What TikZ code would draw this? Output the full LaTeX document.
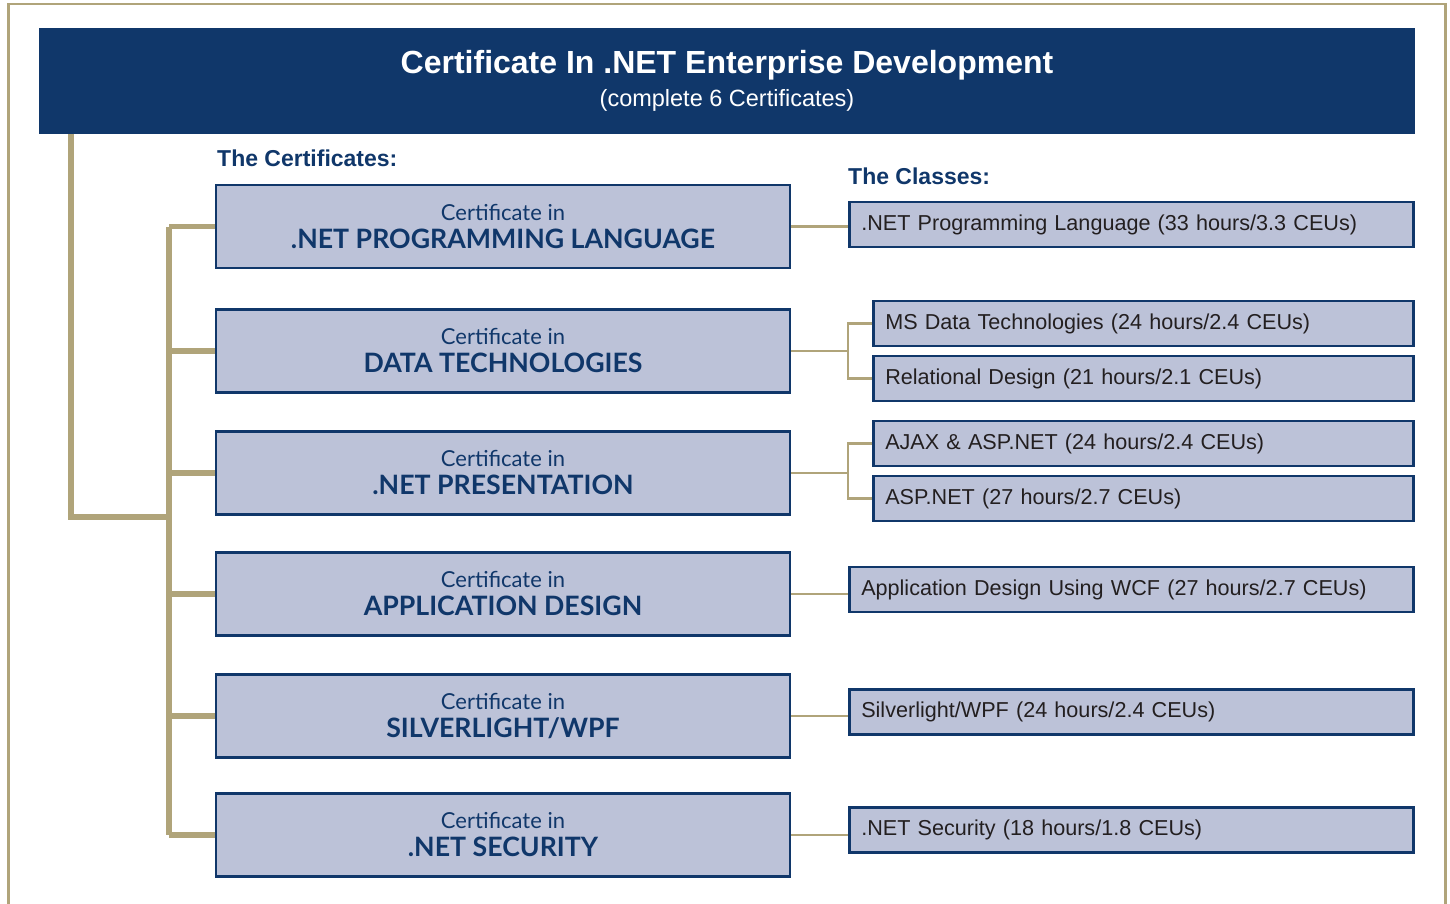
\documentclass[tikz,border=0pt]{standalone}
\usepackage{fontspec}
\setmainfont{Liberation Sans}
\newfontfamily\certfont{Lato}
\usepackage{tikz}
\definecolor{navy}{HTML}{10376A}
\definecolor{tan}{HTML}{B0A47A}
\definecolor{boxfill}{HTML}{BCC2D8}
\definecolor{classtext}{HTML}{231F20}

\begin{document}
\begin{tikzpicture}[x=1pt,y=-1pt,
        frame/.style={draw=tan,line width=2.5pt},
        banner/.style={shape=rectangle,fill=navy,minimum width=1376pt,minimum height=106pt,inner sep=0pt},
        heading/.style={anchor=base west,inner sep=0pt,text=navy,font=\bfseries\fontsize{23}{27}\selectfont},
        cert/.style={shape=rectangle,draw=navy,fill=boxfill,line width=2.5pt,minimum width=574pt,minimum height=83pt,inner sep=0pt,align=center,text=navy,font=\certfont\fontsize{22}{27}\selectfont},
        class/.style={shape=rectangle,draw=navy,fill=boxfill,line width=2.5pt,minimum height=45pt,inner xsep=12pt,inner ysep=0pt,anchor=west,align=left,text=classtext,font=\fontsize{21.6}{25}\selectfont},
        trunkline/.style={draw=tan,line width=5.5pt},
        branchline/.style={draw=tan,line width=2.5pt}]
        \newcommand{\certtext}[1]{Certificate in\\[1pt]{\bfseries\fontsize{26.7}{27}\selectfont #1}}
        % outline and banner
        \useasboundingbox (0,0) rectangle (1450,904);
        \draw[frame] (8.7,904) -- (8.7,3.8) -- (1445.3,3.8) -- (1445.3,904);
        \node[banner] (header) at (727,81) {};
        \node[anchor=base,text=white,font=\bfseries\fontsize{32}{36}\selectfont] (title) at (727,74) {Certificate In .NET Enterprise Development};
        \node[anchor=base,text=white,font=\fontsize{23.5}{27}\selectfont] (subtitle) at (727,107) {(complete 6 Certificates)};
        \node[heading] (certhead) at (217,167) {The Certificates:};
        \node[heading] (classhead) at (848,185) {The Classes:};
        % the certificates
        \path (503,226.5) node [cert] (certA) {\certtext{.NET PROGRAMMING LANGUAGE}}
              (503,351) node [cert] (certB) {\certtext{DATA TECHNOLOGIES}}
              (503,473) node [cert] (certC) {\certtext{.NET PRESENTATION}}
              (503,594) node [cert] (certD) {\certtext{APPLICATION DESIGN}}
              (503,716) node [cert] (certE) {\certtext{SILVERLIGHT/WPF}}
              (503,835) node [cert] (certF) {\certtext{.NET SECURITY}};
        % the classes
        \path (848,224.5) node [class,text width=540pt] (classA) {.NET Programming Language (33 hours/3.3 CEUs)}
              (872,323.5) node [class,text width=516pt] (classB1) {MS Data Technologies (24 hours/2.4 CEUs)}
              (872,378.5) node [class,text width=516pt] (classB2) {Relational Design (21 hours/2.1 CEUs)}
              (872,443.5) node [class,text width=516pt] (classC1) {AJAX \& ASP.NET (24 hours/2.4 CEUs)}
              (872,498.5) node [class,text width=516pt] (classC2) {ASP.NET (27 hours/2.7 CEUs)}
              (848,589.5) node [class,text width=540pt] (classD) {Application Design Using WCF (27 hours/2.7 CEUs)}
              (848,712) node [class,text width=540pt] (classE) {Silverlight/WPF (24 hours/2.4 CEUs)}
              (848,830) node [class,text width=540pt] (classF) {.NET Security (18 hours/1.8 CEUs)};
        % tree on the left
        \coordinate (trunk) at (71,134);
        \coordinate (joint) at (169,517);
        \draw[trunkline] (trunk) |- (joint);
        \draw[trunkline] (certA.west -| joint) -- (certF.west -| joint);
        \foreach \c in {certA,certB,certC,certD,certE,certF}
            \draw[trunkline] (\c.west -| joint) -- (\c.west);
        % links to the classes
        \foreach \c/\k in {certA/classA,certD/classD,certE/classE,certF/classF}
            \draw[branchline] (\c.east) -- (\c.east -| \k.west);
        \foreach \c/\k in {certB/classB,certC/classC}{
            \coordinate (\c fork) at (848,0);
            \draw[branchline] (\c.east) -- (\c.east -| \c fork);
            \draw[branchline] (\k1.west) -| (\c fork |- \k2.west) -- (\k2.west);
        }
\end{tikzpicture}
\end{document}
